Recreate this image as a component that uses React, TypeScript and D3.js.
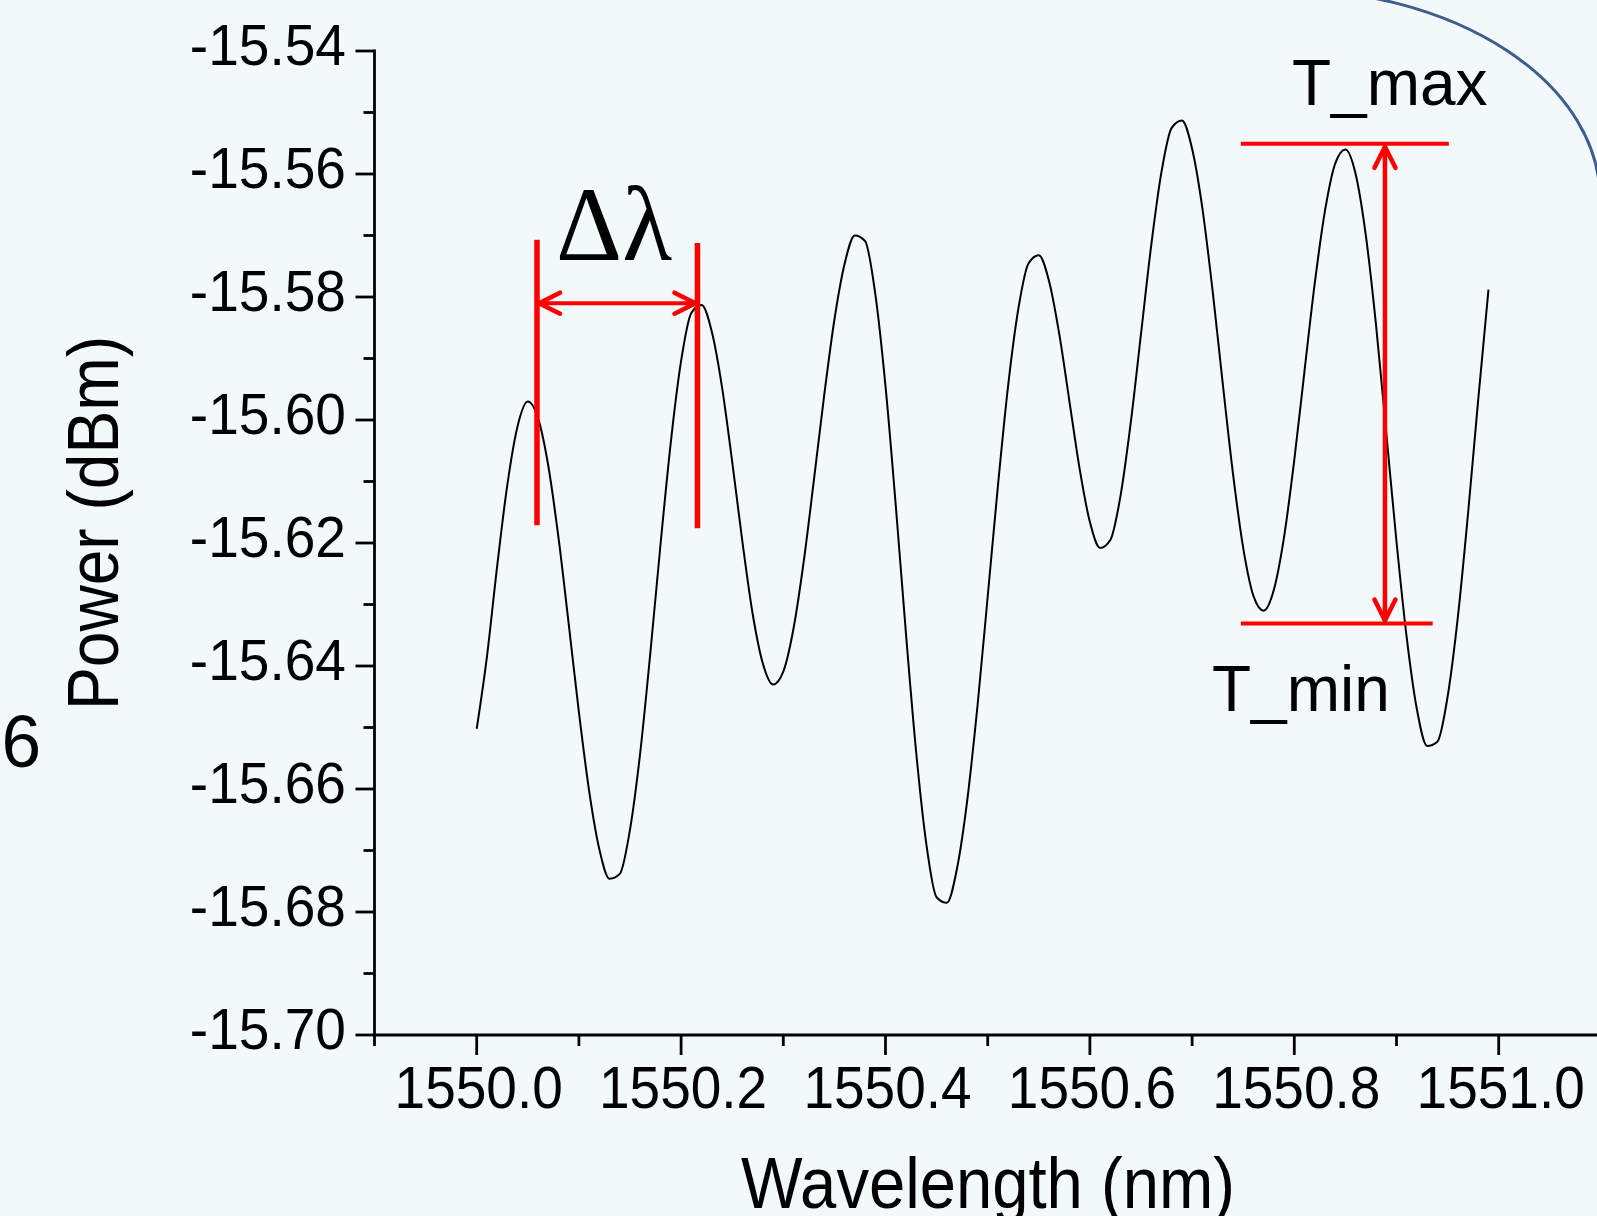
import React, { useEffect, useRef } from 'react'
import * as d3 from 'd3'

// spectrum (nm, dBm)
const wavelengths = [
  1550.0, 1550.01, 1550.02, 1550.03, 1550.04, 1550.05, 1550.06, 1550.07, 1550.08, 1550.09,
  1550.1, 1550.11, 1550.12, 1550.13, 1550.14, 1550.15, 1550.16, 1550.17, 1550.18, 1550.19,
  1550.2, 1550.21, 1550.22, 1550.23, 1550.24, 1550.25, 1550.26, 1550.27, 1550.28, 1550.29,
  1550.3, 1550.31, 1550.32, 1550.33, 1550.34, 1550.35, 1550.36, 1550.37, 1550.38, 1550.39,
  1550.4, 1550.41, 1550.42, 1550.43, 1550.44, 1550.45, 1550.46, 1550.47, 1550.48, 1550.49,
  1550.5, 1550.51, 1550.52, 1550.53, 1550.54, 1550.55, 1550.56, 1550.57, 1550.58, 1550.59,
  1550.6, 1550.61, 1550.62, 1550.63, 1550.64, 1550.65, 1550.66, 1550.67, 1550.68, 1550.69,
  1550.7, 1550.71, 1550.72, 1550.73, 1550.74, 1550.75, 1550.76, 1550.77, 1550.78, 1550.79,
  1550.8, 1550.81, 1550.82, 1550.83, 1550.84, 1550.85, 1550.86, 1550.87, 1550.88, 1550.89,
  1550.9, 1550.91, 1550.92, 1550.93, 1550.94, 1550.95, 1550.96, 1550.97, 1550.98, 1550.99,
]
const powers = [
  -15.6502, -15.6385, -15.6238, -15.6105, -15.601, -15.597, -15.5997, -15.6074, -15.6191, -15.6331,
  -15.6475, -15.6603, -15.6698, -15.6746, -15.6738, -15.6666, -15.6541, -15.6377, -15.62, -15.6035,
  -15.5904, -15.5826, -15.5813, -15.5856, -15.5946, -15.6068, -15.6198, -15.6315, -15.6396, -15.643,
  -15.6409, -15.6339, -15.623, -15.6097, -15.596, -15.5837, -15.5746, -15.57, -15.5709, -15.5795,
  -15.5945, -15.6138, -15.6347, -15.654, -15.669, -15.6776, -15.6785, -15.6729, -15.6618, -15.6465,
  -15.6287, -15.6107, -15.5944, -15.5819, -15.5745, -15.5732, -15.5774, -15.586, -15.597, -15.608,
  -15.6166, -15.6208, -15.6195, -15.6123, -15.6004, -15.586, -15.5716, -15.5597, -15.5525, -15.5513,
  -15.5559, -15.5655, -15.5789, -15.5941, -15.6087, -15.6208, -15.6286, -15.631, -15.6276, -15.619,
  -15.6065, -15.592, -15.5778, -15.566, -15.5583, -15.556, -15.56, -15.57, -15.5846, -15.6021,
  -15.6198, -15.6354, -15.6471, -15.653, -15.6523, -15.645, -15.6321, -15.6152, -15.5966, -15.5788,
]

const xMajorTicks = [1550.0, 1550.2, 1550.4, 1550.6, 1550.8, 1551.0]
const xMinorTicks = [1549.9, 1550.1, 1550.3, 1550.5, 1550.7, 1550.9]
const yMajorTicks = [-15.54, -15.56, -15.58, -15.6, -15.62, -15.64, -15.66, -15.68, -15.7]
const yMinorTicks = [-15.55, -15.57, -15.59, -15.61, -15.63, -15.65, -15.67, -15.69]

// annotation positions in data units
const deltaMarks = [1550.059, 1550.216]
const deltaMarkTop = [-15.5707, -15.5712]
const deltaMarkBottom = [-15.6171, -15.6176]
const deltaArrowLevel = -15.581
const tMaxLevel = -15.5551
const tMinLevel = -15.6331
const tMaxSpan = [1550.7477, 1550.9512]
const tMinSpan = [1550.7477, 1550.9354]
const tArrowAt = 1550.8887

// decorative slide ellipse (pixels): centre x, centre y, radius x, radius y
const slideEllipse = [1282, 198.6, 318, 209.4]

const W = 1597
const H = 1216
const sans = "'Liberation Sans', Arial, sans-serif"

export default function App() {
  const svgRef = useRef(null)

  useEffect(() => {
    const svg = d3.select(svgRef.current)
    svg.selectAll('*').remove()

    const x = d3.scaleLinear().domain([1549.9, 1551.1]).range([374.5, 374.5 + 12 * 102.2])
    const y = d3.scaleLinear().domain([-15.7, -15.54]).range([1035, 51])

    svg.append('rect').attr('width', W).attr('height', H).attr('fill', '#f3f9fb')

    // upper right quarter of the slide ellipse
    const [ex, ey, rx, ry] = slideEllipse
    svg
      .append('path')
      .attr('d', `M${ex},${ey - ry}A${rx},${ry} 0 0 1 ${ex + rx},${ey}`)
      .attr('fill', 'none')
      .attr('stroke', '#3c5d8d')
      .attr('stroke-width', 3)

    const axes = svg.append('g').attr('stroke', '#000').attr('stroke-width', 2.8)
    axes.append('line').attr('x1', x(1549.9)).attr('x2', W + 5).attr('y1', y(-15.7)).attr('y2', y(-15.7))
    axes
      .append('line')
      .attr('x1', x(1549.9))
      .attr('x2', x(1549.9))
      .attr('y1', y(-15.7))
      .attr('y2', y(-15.54) - 1.4)

    xMajorTicks.forEach((t) =>
      axes.append('line').attr('x1', x(t)).attr('x2', x(t)).attr('y1', y(-15.7)).attr('y2', y(-15.7) + 20)
    )
    xMinorTicks.forEach((t) =>
      axes.append('line').attr('x1', x(t)).attr('x2', x(t)).attr('y1', y(-15.7)).attr('y2', y(-15.7) + 11)
    )
    yMajorTicks.forEach((t) =>
      axes.append('line').attr('x1', x(1549.9) - 19).attr('x2', x(1549.9)).attr('y1', y(t)).attr('y2', y(t))
    )
    yMinorTicks.forEach((t) =>
      axes.append('line').attr('x1', x(1549.9) - 11).attr('x2', x(1549.9)).attr('y1', y(t)).attr('y2', y(t))
    )

    const labels = svg.append('g').attr('font-family', sans).attr('fill', '#000')
    xMajorTicks.forEach((t) =>
      labels
        .append('text')
        .attr('transform', `translate(${x(t) + 2},1108) scale(0.94,1)`)
        .attr('text-anchor', 'middle')
        .attr('font-size', 58.5)
        .text(t.toFixed(1))
    )
    yMajorTicks.forEach((t) =>
      labels
        .append('text')
        .attr('transform', `translate(346,${y(t) + 14}) scale(0.95,1)`)
        .attr('text-anchor', 'end')
        .attr('font-size', 58)
        .text(t.toFixed(2))
    )

    labels
      .append('text')
      .attr('x', 988)
      .attr('y', 1208)
      .attr('text-anchor', 'middle')
      .attr('font-size', 72)
      .attr('textLength', 494)
      .attr('lengthAdjust', 'spacingAndGlyphs')
      .text('Wavelength (nm)')
    labels
      .append('text')
      .attr('transform', 'translate(118,523) rotate(-90)')
      .attr('text-anchor', 'middle')
      .attr('font-size', 72)
      .attr('textLength', 374)
      .attr('lengthAdjust', 'spacingAndGlyphs')
      .text('Power (dBm)')
    labels
      .append('text')
      .attr('transform', 'translate(41,767) scale(0.95,1)')
      .attr('text-anchor', 'end')
      .attr('font-size', 75)
      .text('6')

    // spectrum trace
    const line = d3
      .line()
      .x((d) => x(d[0]))
      .y((d) => y(d[1]))
      .curve(d3.curveMonotoneX)
    svg
      .append('path')
      .attr('d', line(wavelengths.map((w, i) => [w, powers[i]])))
      .attr('fill', 'none')
      .attr('stroke', '#000')
      .attr('stroke-width', 2)
      .attr('stroke-linejoin', 'round')

    // red annotations
    const red = svg
      .append('g')
      .attr('stroke', '#ff0000')
      .attr('fill', 'none')
      .attr('stroke-linecap', 'round')
      .attr('stroke-linejoin', 'round')

    const chevron = (tx, ty, dx, dy) => {
      const L = 21
      const Wd = 10.5
      const px = -dy
      const py = dx
      return `M${tx - L * dx + Wd * px},${ty - L * dy + Wd * py}L${tx},${ty}L${tx - L * dx - Wd * px},${ty - L * dy - Wd * py}`
    }

    deltaMarks.forEach((m, i) =>
      red
        .append('line')
        .attr('x1', x(m))
        .attr('x2', x(m))
        .attr('y1', y(deltaMarkTop[i]))
        .attr('y2', y(deltaMarkBottom[i]))
        .attr('stroke-width', 5.5)
        .attr('stroke-linecap', 'butt')
    )
    const ay = y(deltaArrowLevel)
    const ax0 = x(deltaMarks[0]) + 2
    const ax1 = x(deltaMarks[1]) - 2
    red.append('line').attr('x1', ax0).attr('x2', ax1).attr('y1', ay).attr('y2', ay).attr('stroke-width', 4)
    red.append('path').attr('d', chevron(ax0, ay, -1, 0)).attr('stroke-width', 4.5)
    red.append('path').attr('d', chevron(ax1, ay, 1, 0)).attr('stroke-width', 4.5)

    red
      .append('line')
      .attr('x1', x(tMaxSpan[0]))
      .attr('x2', x(tMaxSpan[1]))
      .attr('y1', y(tMaxLevel))
      .attr('y2', y(tMaxLevel))
      .attr('stroke-width', 4)
      .attr('stroke-linecap', 'butt')
    red
      .append('line')
      .attr('x1', x(tMinSpan[0]))
      .attr('x2', x(tMinSpan[1]))
      .attr('y1', y(tMinLevel))
      .attr('y2', y(tMinLevel))
      .attr('stroke-width', 4)
      .attr('stroke-linecap', 'butt')
    const vx = x(tArrowAt)
    const vy0 = y(tMaxLevel) + 3
    const vy1 = y(tMinLevel) - 3
    red.append('line').attr('x1', vx).attr('x2', vx).attr('y1', vy0).attr('y2', vy1).attr('stroke-width', 4.5)
    red.append('path').attr('d', chevron(vx, vy0, 0, -1)).attr('stroke-width', 4.5)
    red.append('path').attr('d', chevron(vx, vy1, 0, 1)).attr('stroke-width', 4.5)

    // annotation text
    svg
      .append('text')
      .attr('x', 556)
      .attr('y', 260)
      .attr('font-family', "'Liberation Serif', 'Times New Roman', serif")
      .attr('font-size', 106)
      .attr('textLength', 116)
      .attr('lengthAdjust', 'spacingAndGlyphs')
      .attr('fill', '#000')
      .text('Δλ')
    labels
      .append('text')
      .attr('x', 1292)
      .attr('y', 105)
      .attr('font-size', 64)
      .text('T_max')
    labels
      .append('text')
      .attr('x', 1212)
      .attr('y', 711)
      .attr('font-size', 64)
      .text('T_min')
  }, [])

  return (
    <svg
      ref={svgRef}
      width={W}
      height={H}
      style={{ position: 'absolute', left: 0, top: 0, display: 'block' }}
    ></svg>
  )
}
